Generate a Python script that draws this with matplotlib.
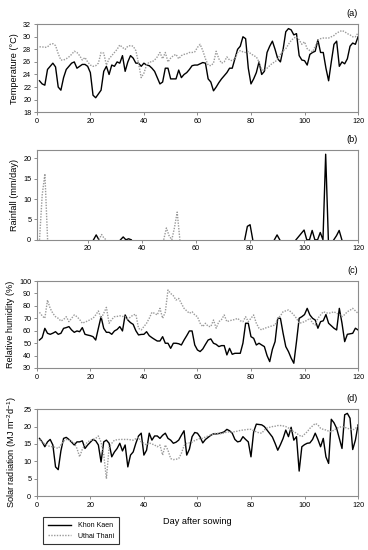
import numpy as np
import matplotlib
matplotlib.use("Agg")
import matplotlib.pyplot as plt


days = np.arange(1, 121)

# (a) mean temperature, deg C
temp_kk = [
    23.0, 22.5, 22.3, 24.8, 25.3, 25.8, 25.2, 22.0, 21.5, 23.5,
    24.8, 25.3, 25.8, 26.0, 25.0, 25.3, 25.6, 25.6, 25.3, 24.3,
    20.7, 20.3, 20.9, 21.5, 24.5, 25.3, 24.0, 25.5, 25.3, 26.0,
    25.8, 27.0, 24.5, 26.0, 27.0, 26.6, 25.8, 25.8, 25.3, 25.8,
    25.5, 25.4, 25.0, 24.5, 23.5, 22.5, 22.8, 25.0, 25.0, 23.3,
    23.3, 23.3, 24.7, 23.5, 24.0, 24.3, 24.8, 25.4, 25.5, 25.5,
    25.7, 25.9, 25.8, 23.3, 22.8, 21.4, 22.0, 22.7, 23.3, 23.8,
    24.3, 25.0, 25.0, 26.5, 28.0, 28.5, 30.0, 29.7, 25.0, 22.5,
    23.3, 24.3, 26.0, 24.0, 24.5, 27.5, 28.5, 29.3, 28.0, 26.5,
    26.0, 28.0, 30.8, 31.3, 31.1, 30.3, 30.5, 27.0, 26.3, 26.2,
    25.5, 27.2, 27.5, 27.7, 29.5, 27.5, 27.5, 25.0, 23.0, 26.0,
    28.8, 29.3, 25.3, 26.0, 25.7, 26.5, 28.5, 29.0, 28.8, 30.0,
]
temp_ut = [
    28.4, 28.4, 28.3, 28.4, 28.8, 28.9, 28.6, 27.3, 26.3, 26.3,
    26.5, 26.8, 27.2, 27.7, 27.5, 27.0, 26.3, 26.7, 26.0, 25.5,
    25.3, 25.4, 25.8, 27.5, 27.4, 25.5, 26.5, 27.0, 27.5, 28.0,
    28.7, 28.3, 28.0, 28.5, 28.6, 28.5, 27.8, 25.8, 23.5, 24.2,
    25.5, 26.0, 26.0, 26.3, 26.8, 27.5, 26.5, 27.5, 26.0, 26.6,
    27.0, 27.2, 26.5, 27.0, 27.2, 27.3, 27.5, 27.5, 27.6, 28.3,
    28.8, 27.8, 26.5, 25.5, 25.4, 25.8, 27.7, 26.5, 25.8, 26.0,
    26.8, 26.3, 26.2, 26.5, 27.5, 27.8, 27.6, 27.5, 27.6, 27.3,
    27.0, 26.8, 26.0, 24.8, 24.6, 25.0, 25.4, 25.8, 26.0, 26.5,
    27.2, 27.8, 28.1, 28.8, 29.4, 29.8, 30.0, 29.5, 28.8, 29.2,
    28.1, 27.8, 27.6, 28.5, 29.4, 29.7, 29.8, 29.8, 29.8, 30.0,
    30.2, 30.6, 30.8, 31.0, 30.8, 30.5, 30.3, 30.0, 30.0, 30.6,
]

# (b) rainfall, mm/day (only rain days listed, rest are 0)
rain_days_kk = [23, 33, 35, 79, 80, 90, 98, 99, 100, 103, 106, 108, 112, 113]
rain_vals_kk = [1.2, 0.7, 0.25, 3.3, 3.7, 1.2, 0.8, 1.6, 2.4, 2.3, 1.8, 21.0, 1.0, 2.3]
rain_days_ut = [3, 4, 25, 26, 49, 50, 52, 53]
rain_vals_ut = [11.0, 16.2, 1.3, 0.3, 2.9, 1.0, 3.0, 6.8]

# (c) relative humidity, %
rh_kk = [
    52.5, 54.4, 61.9, 57.9, 57.1, 58.0, 59.2, 57.1, 57.9, 61.9,
    62.5, 63.3, 60.6, 58.7, 59.8, 59.2, 62.5, 57.1, 56.5, 56.0,
    55.2, 52.5, 62.0, 71.3, 61.9, 58.7, 58.7, 57.1, 59.8, 61.0,
    63.3, 59.8, 72.7, 68.6, 66.5, 65.1, 60.0, 56.6, 57.0, 57.1,
    59.2, 56.0, 54.4, 53.0, 51.7, 51.7, 55.2, 49.9, 49.9, 45.8,
    49.9, 49.9, 49.5, 48.5, 52.5, 56.0, 59.8, 59.8, 48.5, 44.5,
    43.2, 45.3, 49.0, 52.5, 53.4, 49.9, 49.0, 47.2, 48.0, 48.0,
    40.5, 45.8, 41.0, 41.8, 41.8, 41.8, 50.0, 66.0, 66.0, 55.2,
    53.9, 48.5, 49.9, 48.5, 47.2, 40.0, 35.1, 45.0, 51.2, 70.0,
    70.0, 57.9, 47.2, 43.2, 38.0, 33.8, 51.2, 70.0, 71.3, 73.0,
    78.0, 72.7, 70.0, 68.6, 62.0, 67.3, 68.0, 73.0, 66.0, 64.0,
    62.0, 60.6, 78.0, 66.0, 51.2, 57.1, 57.5, 57.9, 62.0, 60.6,
]
rh_ut = [
    74.8, 72.0, 70.0, 84.7, 78.0, 74.0, 71.3, 70.0, 67.8, 69.0,
    71.3, 67.3, 70.0, 72.7, 71.3, 69.0, 66.0, 67.0, 67.8, 69.0,
    70.0, 72.7, 75.9, 70.0, 74.0, 78.8, 66.0, 69.0, 71.3, 71.5,
    72.0, 71.5, 71.3, 69.4, 71.0, 72.7, 73.2, 61.9, 60.6, 63.3,
    66.0, 70.0, 74.8, 74.0, 72.7, 78.0, 70.0, 75.0, 92.8, 90.0,
    88.2, 84.7, 86.0, 82.0, 78.0, 76.0, 74.0, 75.3, 72.7, 71.3,
    66.0, 63.3, 66.0, 63.5, 63.3, 68.6, 62.0, 67.3, 69.0, 72.7,
    67.3, 68.0, 68.6, 69.0, 70.0, 68.0, 67.3, 71.3, 67.3, 70.0,
    72.7, 66.0, 62.0, 60.6, 62.0, 62.5, 63.3, 64.0, 64.6, 70.0,
    72.0, 75.3, 76.0, 76.7, 75.0, 72.7, 70.0, 66.0, 66.5, 67.3,
    68.5, 70.0, 66.0, 64.6, 70.0, 72.7, 75.3, 74.5, 74.0, 74.5,
    75.3, 74.0, 73.0, 71.3, 73.0, 75.3, 76.5, 78.0, 76.0, 74.0,
]

# (d) solar radiation, MJ m-2 d-1
sr_kk = [
    16.6, 15.6, 14.2, 15.6, 16.3, 14.7, 8.4, 7.6, 13.0, 16.6,
    16.9, 16.3, 15.5, 14.7, 15.6, 15.6, 15.9, 13.7, 14.7, 15.5,
    16.3, 15.9, 14.7, 9.8, 15.6, 16.1, 15.2, 11.3, 12.7, 13.7,
    15.2, 13.0, 14.7, 8.4, 11.8, 12.7, 15.2, 17.3, 18.1, 11.8,
    13.2, 18.1, 16.1, 17.3, 17.3, 16.6, 17.5, 18.1, 16.6, 16.1,
    15.2, 15.5, 16.1, 17.5, 18.8, 11.8, 13.5, 17.1, 18.3, 18.1,
    17.0, 15.3, 16.3, 16.9, 17.5, 17.9, 17.9, 18.0, 18.2, 18.5,
    19.2, 18.8, 18.1, 16.3, 15.6, 15.8, 17.1, 16.3, 15.6, 11.3,
    18.5, 20.7, 20.6, 20.5, 20.0, 19.0, 18.0, 17.0, 15.2, 13.2,
    14.8, 16.6, 19.0, 17.1, 19.8, 16.1, 17.1, 7.2, 14.2, 14.8,
    15.2, 15.3, 16.3, 18.1, 16.3, 14.2, 16.6, 11.3, 9.4, 22.1,
    21.1, 19.5, 16.6, 13.7, 23.4, 23.8, 22.4, 13.4, 16.1, 20.5,
]
sr_ut = [
    16.3, 15.5, 15.0, 14.5, 14.3, 14.2, 14.0, 13.7, 14.7, 15.8,
    16.3, 16.1, 15.8, 15.2, 13.7, 11.3, 13.5, 14.7, 15.6, 16.0,
    16.3, 16.6, 17.3, 15.5, 12.0, 5.0, 14.0, 15.2, 16.1, 16.2,
    16.3, 16.3, 16.3, 16.3, 16.2, 16.1, 16.5, 16.9, 15.6, 15.2,
    14.7, 15.3, 15.0, 14.7, 14.2, 14.7, 11.8, 14.7, 13.2, 10.8,
    10.5, 10.6, 10.8, 12.3, 14.5, 15.2, 15.3, 15.5, 16.0, 16.3,
    16.6, 16.6, 17.0, 17.3, 17.6, 17.9, 18.1, 18.0, 17.9, 18.2,
    18.4, 18.5, 18.5, 18.5, 18.7, 18.9, 19.0, 19.1, 19.2, 19.2,
    18.8, 18.5, 18.2, 18.1, 19.0, 19.6, 19.8, 20.0, 20.1, 20.3,
    20.3, 20.2, 20.0, 19.6, 19.0, 18.5, 18.1, 17.5, 17.1, 17.8,
    18.5, 19.5, 20.2, 20.9, 20.5, 19.5, 19.2, 19.0, 18.7, 18.5,
    19.0, 19.5, 19.8, 20.0, 19.8, 19.5, 19.3, 19.0, 19.5, 20.0,
]


def rain_series(rain_days, rain_vals):
    # daily series; dry days away from any rain are blanked so that
    # the line does not run along the x axis
    r = np.zeros(len(days))
    r[np.array(rain_days) - 1] = rain_vals
    wet = r > 0
    near = wet | np.roll(wet, 1) | np.roll(wet, -1)
    return np.where(near, r, np.nan)


rain_kk = rain_series(rain_days_kk, rain_vals_kk)
rain_ut = rain_series(rain_days_ut, rain_vals_ut)

plt.rcParams["font.family"] = ["Liberation Sans", "DejaVu Sans"]
plt.rcParams["mathtext.fontset"] = "custom"
plt.rcParams["mathtext.rm"] = "Liberation Sans"

SPINE = "#8c8c8c"
DOT = "#9a9a9a"

fig = plt.figure(figsize=(3.68, 5.5), dpi=100)

# [left, bottom, width, height] in figure fractions
boxes = [
    [0.100, 0.796, 0.873, 0.160],
    [0.100, 0.564, 0.873, 0.163],
    [0.100, 0.331, 0.873, 0.158],
    [0.100, 0.098, 0.873, 0.158],
]

panels = [
    (temp_kk, temp_ut, (18, 32), range(18, 33, 2), "Temperature (\u00b0C)", "(a)"),
    (rain_kk, rain_ut, (0, 22), range(0, 21, 5), "Rainfall (mm/day)", "(b)"),
    (rh_kk, rh_ut, (30, 100), range(30, 101, 10), "Relative humidity (%)", "(c)"),
    (sr_kk, sr_ut, (0, 25), range(0, 26, 5), r"Solar radiation (MJ m$^{-2}$d$^{-1}$)", "(d)"),
]

axes = []
for i, (kk, ut, ylim, yticks, ylabel, tag) in enumerate(panels):
    ax = fig.add_axes(boxes[i])
    l1, = ax.plot(days, kk, color="black", lw=1.0, label="Khon Kaen")
    l2, = ax.plot(days, ut, color=DOT, lw=1.0, ls=(0, (1, 1)), label="Uthai Thani")
    ax.set_ylim(*ylim)
    ax.set_yticks(list(yticks))
    if i == 1:
        ax.set_xlim(1, 120)
        ax.set_xticks(range(20, 121, 20))
    else:
        ax.set_xlim(0, 120)
        ax.set_xticks(range(0, 121, 20))
    for s in ax.spines.values():
        s.set_color(SPINE)
        s.set_linewidth(0.8)
    ax.tick_params(direction="out", length=2.5, width=0.7, color=SPINE,
                   labelsize=5.2, pad=1.5)
    ax.set_ylabel(ylabel, fontsize=6.6, labelpad=3)
    ax.text(1.0, 1.07, tag, transform=ax.transAxes, ha="right", va="bottom",
            fontsize=6.6)
    axes.append(ax)

axes[-1].set_xlabel("Day after sowing", fontsize=6.6, labelpad=6)

fig.legend(handles=[l1, l2], loc="upper left", bbox_to_anchor=(0.107, 0.066),
           fontsize=5.0, frameon=True, fancybox=False, edgecolor="black",
           handlelength=3.4, borderpad=0.7, labelspacing=0.5, handletextpad=0.9)
fig.legends[0].get_frame().set_linewidth(0.8)

fig.savefig("out.png", dpi=100)
